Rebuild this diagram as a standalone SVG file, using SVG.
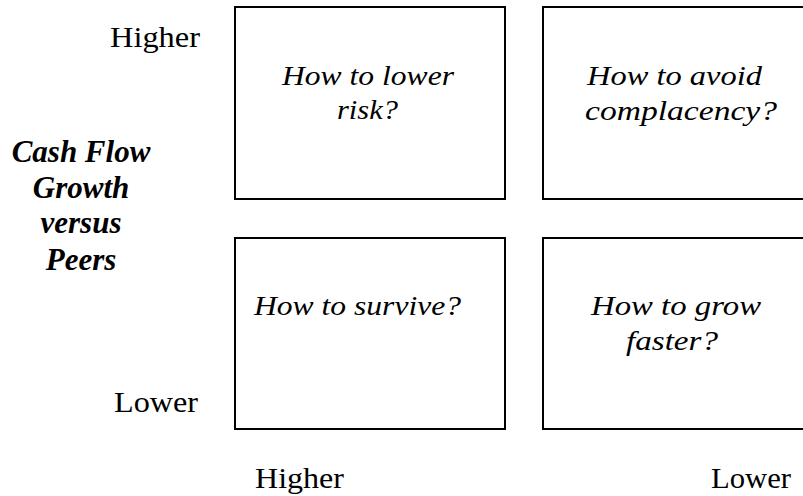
<svg xmlns="http://www.w3.org/2000/svg" width="803" height="496" viewBox="0 0 803 496">
<style>
.box{fill:#fff;stroke:#000;stroke-width:2}
.q{font-family:"Liberation Serif","Times New Roman",serif;font-style:italic;font-size:28px;fill:#000}
.lab{font-family:"Liberation Serif","Times New Roman",serif;font-size:30px;fill:#000}
.ax{font-family:"Liberation Serif","Times New Roman",serif;font-style:italic;font-weight:bold;font-size:31px;fill:#000}
</style>
<rect width="803" height="496" fill="#fff"/>
<g id="connectors"></g>
<g id="q1"><rect class="box" x="235" y="7" width="270" height="192"/>
<text class="q" x="282" y="85" textLength="172" lengthAdjust="spacingAndGlyphs">How to lower</text>
<text class="q" x="337" y="119" textLength="61" lengthAdjust="spacingAndGlyphs">risk?</text></g>
<g id="q2"><rect class="box" x="543" y="7" width="276" height="192"/>
<text class="q" x="587" y="85" textLength="175" lengthAdjust="spacingAndGlyphs">How to avoid</text>
<text class="q" x="585" y="120" textLength="192" lengthAdjust="spacingAndGlyphs">complacency?</text></g>
<g id="q3"><rect class="box" x="235" y="238" width="270" height="191"/>
<text class="q" x="254" y="315" textLength="207" lengthAdjust="spacingAndGlyphs">How to survive?</text></g>
<g id="q4"><rect class="box" x="543" y="238" width="276" height="191"/>
<text class="q" x="591" y="315" textLength="170" lengthAdjust="spacingAndGlyphs">How to grow</text>
<text class="q" x="626" y="350" textLength="92" lengthAdjust="spacingAndGlyphs">faster?</text></g>
<g id="yaxis">
<text class="lab" x="110" y="47" textLength="90" lengthAdjust="spacingAndGlyphs">Higher</text>
<text class="lab" x="114" y="412" textLength="84" lengthAdjust="spacingAndGlyphs">Lower</text>
<text class="ax" x="81" y="162" text-anchor="middle">Cash Flow</text>
<text class="ax" x="81" y="198" text-anchor="middle">Growth</text>
<text class="ax" x="81" y="233" text-anchor="middle">versus</text>
<text class="ax" x="81" y="270" text-anchor="middle">Peers</text>
</g>
<g id="xaxis">
<text class="lab" x="255" y="488" textLength="89" lengthAdjust="spacingAndGlyphs">Higher</text>
<text class="lab" x="711" y="488" textLength="80" lengthAdjust="spacingAndGlyphs">Lower</text>
</g>
</svg>
